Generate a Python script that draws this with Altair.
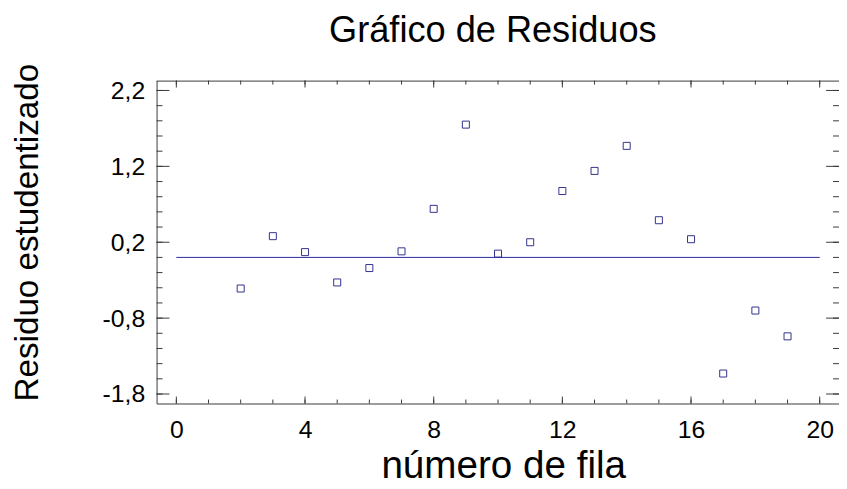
import altair as alt
import pandas as pd

# Data
row = [2, 3, 4, 5, 6, 7, 8, 9, 10, 11, 12, 13, 14, 15, 16, 17, 18, 19]
resid = [-0.41, 0.28, 0.07, -0.33, -0.14, 0.08, 0.64, 1.75, 0.05, 0.20,
         0.875, 1.14, 1.47, 0.49, 0.24, -1.53, -0.70, -1.04]
line_x = [0, 20]
line_y = [0.0, 0.0]

x_major = [0, 4, 8, 12, 16, 20]
x_minor = [0, 1, 2, 3, 4, 5, 6, 7, 8, 9, 10, 11, 12, 13, 14, 15, 16, 17, 18, 19, 20]
y_major = [-1.8, -0.8, 0.2, 1.2, 2.2]
y_minor = [-1.8, -1.6, -1.4, -1.2, -1.0, -0.8, -0.6, -0.4, -0.2, 0.0, 0.2,
           0.4, 0.6, 0.8, 1.0, 1.2, 1.4, 1.6, 1.8, 2.0, 2.2]

W, H = 689, 326
FONT = "Liberation Sans"
FRAME = "#3a3a3a"
PT = "#33338c"
LN = "#28289c"

x_scale = alt.Scale(domain=[-0.615, 20.6], nice=False, zero=False)
y_scale = alt.Scale(domain=[-1.925, 2.33], nice=False, zero=False)

df = pd.DataFrame({"row": row, "resid": resid})
line_df = pd.DataFrame({"row": line_x, "resid": line_y})

x_axis = alt.Axis(values=x_major, format="d", ticks=False, grid=False,
                  domainColor=FRAME, labelFont=FONT, labelFontSize=25,
                  labelColor="black", labelPadding=14,
                  title="número de fila", titleFont=FONT, titleFontSize=39,
                  titleFontWeight="normal", titleColor="black",
                  titleX=350, titleY=75, titleBaseline="alphabetic",
                  titleAlign="center")
y_axis = alt.Axis(values=y_major,
                  labelExpr="replace(toString(datum.value), '.', ',')",
                  ticks=False, grid=False, domainColor=FRAME,
                  labelFont=FONT, labelFontSize=25, labelColor="black",
                  labelPadding=12,
                  title="Residuo estudentizado", titleFont=FONT,
                  titleFontSize=33.5, titleFontWeight="normal",
                  titleColor="black", titleX=-130, titleY=153,
                  titleAngle=270, titleBaseline="middle", titleAlign="center")

points = alt.Chart(df).mark_point(shape="square", size=50, filled=False,
                                  color=PT, strokeWidth=1, opacity=1).encode(
    x=alt.X("row:Q", scale=x_scale, axis=x_axis),
    y=alt.Y("resid:Q", scale=y_scale, axis=y_axis),
)

hline = alt.Chart(line_df).mark_line(color=LN, strokeWidth=1).encode(
    x=alt.X("row:Q", scale=x_scale, axis=x_axis),
    y=alt.Y("resid:Q", scale=y_scale, axis=y_axis),
)


def xticks(vals, length, top):
    d = pd.DataFrame({"v": vals})
    if top:
        y0, y1 = 0, length
    else:
        y0, y1 = H, H - length
    return alt.Chart(d).mark_rule(color=FRAME, strokeWidth=1).encode(
        x=alt.X("v:Q", scale=x_scale, axis=x_axis),
        y=alt.value(y0), y2=alt.value(y1))


def yticks(vals, length, right):
    d = pd.DataFrame({"v": vals})
    if right:
        x0, x1 = W, W - length
    else:
        x0, x1 = 0, length
    return alt.Chart(d).mark_rule(color=FRAME, strokeWidth=1).encode(
        y=alt.Y("v:Q", scale=y_scale, axis=y_axis),
        x=alt.value(x0), x2=alt.value(x1))


top_border = alt.Chart(pd.DataFrame({"v": [0]})).mark_rule(
    color=FRAME, strokeWidth=1).encode(
    x=alt.value(0), x2=alt.value(W), y=alt.value(0.5))

chart = alt.layer(
    points, hline,
    xticks(x_major, 7, False), xticks(x_minor, 4, False),
    xticks(x_major, 7, True), xticks(x_minor, 4, True),
    yticks(y_major, 13, False), yticks(y_minor, 6, False),
    yticks(y_major, 13, True), yticks(y_minor, 6, True),
    top_border,
).properties(
    width=W, height=H,
    autosize=alt.AutoSizeParams(type="none"),
    padding={"left": 150, "top": 71, "right": 0, "bottom": 81},
    title=alt.TitleParams("Gráfico de Residuos", font=FONT, fontSize=36.5,
                          fontWeight="normal", color="black",
                          anchor="middle", baseline="alphabetic",
                          frame="group", offset=37, dx=-5, dy=52),
).configure_view(stroke="transparent")

chart.save("out.html", embed_options={"renderer": "svg", "actions": False})
